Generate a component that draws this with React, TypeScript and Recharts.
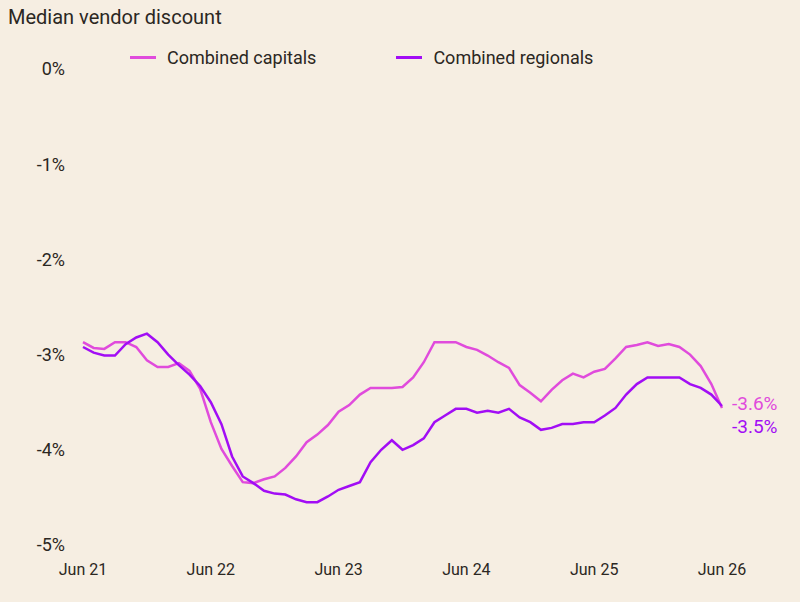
import { LineChart, Line, XAxis, YAxis } from 'recharts';

const BG = '#f6eee2';
const INK = '#2b2722';
const CAPITALS_COLOR = '#e04bdc';
const REGIONALS_COLOR = '#a20df5';

const months = [
  'Jun 21', 'Jul 21', 'Aug 21', 'Sep 21', 'Oct 21', 'Nov 21', 'Dec 21',
  'Jan 22', 'Feb 22', 'Mar 22', 'Apr 22', 'May 22', 'Jun 22', 'Jul 22', 'Aug 22', 'Sep 22', 'Oct 22', 'Nov 22', 'Dec 22',
  'Jan 23', 'Feb 23', 'Mar 23', 'Apr 23', 'May 23', 'Jun 23', 'Jul 23', 'Aug 23', 'Sep 23', 'Oct 23', 'Nov 23', 'Dec 23',
  'Jan 24', 'Feb 24', 'Mar 24', 'Apr 24', 'May 24', 'Jun 24', 'Jul 24', 'Aug 24', 'Sep 24', 'Oct 24', 'Nov 24', 'Dec 24',
  'Jan 25', 'Feb 25', 'Mar 25', 'Apr 25', 'May 25', 'Jun 25', 'Jul 25', 'Aug 25', 'Sep 25', 'Oct 25', 'Nov 25', 'Dec 25',
  'Jan 26', 'Feb 26', 'Mar 26', 'Apr 26', 'May 26', 'Jun 26',
];

// median vendor discount, %
const capitals = [
  -2.87, -2.93, -2.94, -2.87, -2.87, -2.92, -3.06, -3.13, -3.13, -3.09, -3.17, -3.36,
  -3.71, -3.99, -4.17, -4.34, -4.35, -4.31, -4.28, -4.19, -4.07, -3.92, -3.84, -3.74,
  -3.60, -3.53, -3.42, -3.35, -3.35, -3.35, -3.34, -3.24, -3.08, -2.87, -2.87, -2.87,
  -2.92, -2.95, -3.01, -3.08, -3.14, -3.32, -3.40, -3.49, -3.37, -3.27, -3.20, -3.24,
  -3.18, -3.15, -3.04, -2.92, -2.90, -2.87, -2.91, -2.89, -2.92, -3.00, -3.12, -3.31,
  -3.56,
];

const regionals = [
  -2.92, -2.98, -3.01, -3.01, -2.89, -2.82, -2.78, -2.87, -3.00, -3.11, -3.21, -3.33,
  -3.50, -3.73, -4.07, -4.28, -4.35, -4.43, -4.46, -4.47, -4.52, -4.55, -4.55, -4.49,
  -4.42, -4.38, -4.34, -4.13, -4.00, -3.90, -4.00, -3.95, -3.88, -3.71, -3.64, -3.57,
  -3.57, -3.61, -3.59, -3.61, -3.57, -3.66, -3.71, -3.79, -3.77, -3.73, -3.73, -3.71,
  -3.71, -3.64, -3.56, -3.42, -3.31, -3.24, -3.24, -3.24, -3.24, -3.31, -3.35, -3.42,
  -3.54,
];

const xTicks = ['Jun 21', 'Jun 22', 'Jun 23', 'Jun 24', 'Jun 25', 'Jun 26'];
const yTicks = [0, -1, -2, -3, -4, -5];

const series = [
  { key: 'capitals', name: 'Combined capitals', color: CAPITALS_COLOR, dy: -4 },
  { key: 'regionals', name: 'Combined regionals', color: REGIONALS_COLOR, dy: 20 },
];

const data = months.map((month, i) => ({
  month,
  capitals: capitals[i],
  regionals: regionals[i],
}));

const FONT = 'Roboto, "Noto Sans", sans-serif';

// value tag next to the final point of a series
function endLabel(color: string, dy: number) {
  return (props: any) => {
    const { x, y, index, value } = props;
    if (index !== data.length - 1) return null;
    return (
      <text
        x={x + 10}
        y={y + dy}
        fill={color}
        fontSize={19}
        fontFamily={FONT}
        dominantBaseline="central"
      >
        {`${Number(value).toFixed(1)}%`}
      </text>
    );
  };
}

export default function App() {
  return (
    <div
      style={{
        position: 'fixed',
        left: 0,
        top: 0,
        width: 800,
        height: 602,
        background: BG,
        overflow: 'hidden',
        fontFamily: FONT,
        color: INK,
      }}
    >
      <div style={{ position: 'absolute', left: 8, top: 5, fontSize: 20 }}>
        Median vendor discount
      </div>
      <div style={{ position: 'absolute', left: 0, top: 47, display: 'flex', fontSize: 18 }}>
        {series.map((s, i) => (
          <div
            key={s.key}
            style={{ display: 'flex', alignItems: 'center', marginLeft: i === 0 ? 130 : 80 }}
          >
            <span style={{ width: 26, height: 3, background: s.color, marginRight: 11 }} />
            <span>{s.name}</span>
          </div>
        ))}
      </div>
      <LineChart
        width={800}
        height={602}
        data={data}
        margin={{ top: 69, right: 78, bottom: 27, left: 0 }}
      >
        <XAxis
          dataKey="month"
          ticks={xTicks}
          interval={0}
          axisLine={false}
          tickLine={false}
          tickSize={0}
          tickMargin={19}
          tick={{ fill: INK, fontSize: 16, fontFamily: FONT }}
        />
        <YAxis
          type="number"
          domain={[-5, 0]}
          ticks={yTicks}
          width={83}
          axisLine={false}
          tickLine={false}
          tickSize={0}
          tickMargin={18}
          tickFormatter={(v: number) => `${v}%`}
          tick={{ fill: INK, fontSize: 18, fontFamily: FONT }}
        />
        {series.map(s => (
          <Line
            key={s.key}
            name={s.name}
            dataKey={s.key}
            stroke={s.color}
            strokeWidth={2.5}
            dot={false}
            type="linear"
            isAnimationActive={false}
            label={endLabel(s.color, s.dy)}
          />
        ))}
      </LineChart>
    </div>
  );
}
